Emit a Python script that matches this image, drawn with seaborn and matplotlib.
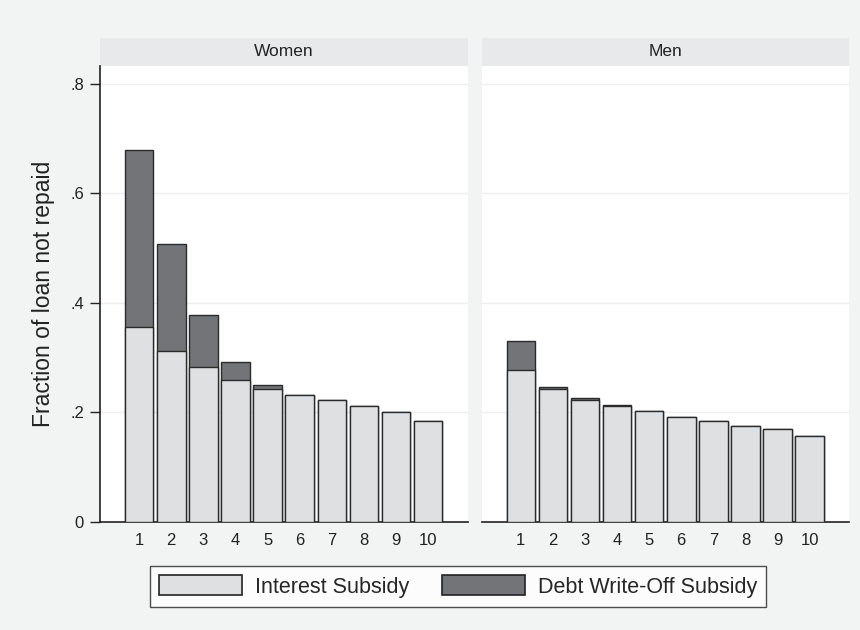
import matplotlib
matplotlib.use("Agg")
import matplotlib.pyplot as plt
import seaborn as sns
from matplotlib.patches import Patch, Rectangle

# deciles on the x axis
deciles = ["1", "2", "3", "4", "5", "6", "7", "8", "9", "10"]

# women: interest part and total (interest + debt write-off)
women_interest = [0.356, 0.312, 0.282, 0.258, 0.242, 0.231, 0.222, 0.211, 0.201, 0.183]
women_total = [0.678, 0.507, 0.378, 0.292, 0.250, 0.232, 0.222, 0.211, 0.201, 0.183]

# men
men_interest = [0.277, 0.242, 0.223, 0.211, 0.203, 0.192, 0.184, 0.175, 0.169, 0.156]
men_total = [0.330, 0.246, 0.225, 0.2125, 0.203, 0.192, 0.184, 0.175, 0.169, 0.156]

panels = ["Women", "Men"]
legend_labels = ["Interest Subsidy", "Debt Write-Off Subsidy"]

light = "#dfe0e2"
dark = "#727477"
bg = "#f2f3f3"
strip_col = "#e8e9ea"

sns.set_style("white")
plt.rcParams["font.family"] = ["Liberation Sans", "DejaVu Sans"]

fig = plt.figure(figsize=(8.6, 6.3), dpi=100, facecolor=bg)
W, H = 860, 630
bottom_px, top_px = 521.7, 66
ax_w = fig.add_axes([100 / W, 1 - bottom_px / H, 367.7 / W, (bottom_px - top_px) / H])
ax_m = fig.add_axes([481.7 / W, 1 - bottom_px / H, 367.3 / W, (bottom_px - top_px) / H], sharey=ax_w)

data = {"Women": (women_interest, women_total), "Men": (men_interest, men_total)}

for ax, name in zip([ax_w, ax_m], panels):
    interest, total = data[name]
    # stacked look: total bar in dark, interest part drawn over it
    sns.barplot(x=deciles, y=total, order=deciles, color=dark, saturation=1,
                width=0.89, edgecolor="#2a2a2a", linewidth=1.0, ax=ax, zorder=2)
    sns.barplot(x=deciles, y=interest, order=deciles, color=light, saturation=1,
                width=0.89, edgecolor="#2a2a2a", linewidth=1.0, ax=ax, zorder=3)
    ax.set_facecolor("white")
    ax.set_xlim(-1.22, 10.23)
    ax.set_ylim(0, 0.832)
    ax.set_yticks([0, 0.2, 0.4, 0.6, 0.8])
    ax.set_yticklabels(["0", ".2", ".4", ".6", ".8"])
    ax.yaxis.grid(True, color="#eeeeee", linewidth=1, zorder=0)
    ax.set_axisbelow(True)
    ax.set_xlabel("")
    ax.set_ylabel("")
    ax.tick_params(axis="x", length=0, pad=8, labelsize=12, colors="#222222")
    for s in ["top", "right"]:
        ax.spines[s].set_visible(False)
    ax.spines["bottom"].set_color("#222222")
    ax.spines["bottom"].set_linewidth(1.2)
    # strip header
    strip_h = 28 / (bottom_px - top_px)
    ax.add_patch(Rectangle((0, 1), 1, strip_h, transform=ax.transAxes,
                           facecolor=strip_col, edgecolor="none", clip_on=False))
    ax.text(0.5, 1 + strip_h / 2, name, transform=ax.transAxes, ha="center",
            va="center", fontsize=12.5, color="#222222")

ax_w.spines["left"].set_color("#222222")
ax_w.spines["left"].set_linewidth(1.2)
ax_w.tick_params(axis="y", length=7, width=1, pad=4.5, labelsize=12, colors="#222222", left=True)
ax_w.set_ylabel("Fraction of loan not repaid", fontsize=16.5, color="#222222", labelpad=11)

ax_m.spines["left"].set_visible(False)
ax_m.tick_params(axis="y", left=False, labelleft=False)

handles = [Patch(facecolor=light, edgecolor="#222222", linewidth=1.2),
           Patch(facecolor=dark, edgecolor="#222222", linewidth=1.2)]
leg = fig.legend(handles, legend_labels, loc="center", bbox_to_anchor=(458 / W, 1 - 586.5 / H),
                 ncol=2, fontsize=15.5, frameon=True, fancybox=False, edgecolor="#222222",
                 handlelength=3.86, handleheight=1.05, handletextpad=0.6,
                 columnspacing=1.53, borderpad=0.42, borderaxespad=0)
leg.get_frame().set_linewidth(1.0)
leg.get_frame().set_facecolor("white")

fig.savefig("out.png", dpi=100, facecolor=bg)
